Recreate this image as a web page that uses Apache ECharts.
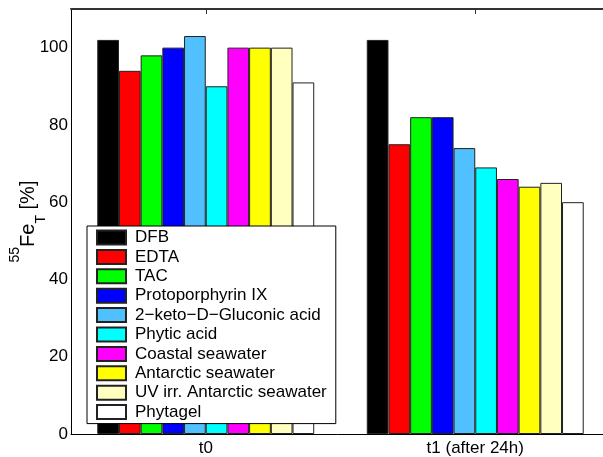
<!DOCTYPE html>
<html><head><meta charset="utf-8">
<script src="https://cdn.jsdelivr.net/npm/echarts@6/dist/echarts.min.js"></script>
<style>html,body{margin:0;padding:0;background:#fff}#c{width:603px;height:457px}</style>
</head><body><div id="c"></div>
<script>
const categories = ['t0', 't1 (after 24h)'];
const seriesNames = ['DFB', 'EDTA', 'TAC', 'Protoporphyrin IX', '2\u2212keto\u2212D\u2212Gluconic acid', 'Phytic acid', 'Coastal seawater', 'Antarctic seawater', 'UV irr. Antarctic seawater', 'Phytagel'];
const DFB = [102, 102];
const EDTA = [94, 75];
const TAC = [98, 82];
const Protoporphyrin = [100, 82];
const Gluconic = [103, 74];
const Phytic = [90, 69];
const Coastal = [100, 66];
const Antarctic = [100, 64];
const UVAntarctic = [100, 65];
const Phytagel = [91, 60];
const yTicks = [0, 20, 40, 60, 80, 100];

const values = [DFB, EDTA, TAC, Protoporphyrin, Gluconic, Phytic, Coastal, Antarctic, UVAntarctic, Phytagel];
const colors = ['#000000', '#ff0000', '#00ff00', '#0000ff', '#50c0ff', '#00ffff', '#ff00ff', '#ffff00', '#ffffc0', '#ffffff'];
const FONT = 'Liberation Sans, Arial, Helvetica, sans-serif';

const chart = echarts.init(document.getElementById('c'), null, {renderer: 'canvas'});
chart.setOption({
  animation: false,
  backgroundColor: '#ffffff',
  textStyle: {fontFamily: FONT},
  grid: {left: 71, right: -7, top: 9, bottom: 23, containLabel: false, outerBoundsMode: 'none'},
  legend: {
    orient: 'vertical', left: 87, top: 226,
    itemWidth: 29, itemHeight: 14, itemGap: 2.4,
    padding: [3, 9, 3, 9],
    backgroundColor: '#ffffff', borderColor: '#000000', borderWidth: 1, borderRadius: 0,
    icon: 'rect',
    textStyle: {fontFamily: FONT, fontSize: 17, color: '#000', lineHeight: 17, padding: [0, 0, 0, 4]},
    data: seriesNames
  },
  xAxis: [{
    type: 'category', data: categories, position: 'bottom',
    axisLine: {lineStyle: {color: '#000', width: 1}},
    axisTick: {show: false},
    axisLabel: {fontFamily: FONT, fontSize: 17, color: '#000', margin: 6}
  }, {
    type: 'category', data: categories, position: 'top',
    axisLine: {lineStyle: {color: '#333', width: 2}},
    axisTick: {show: true, inside: true, alignWithLabel: true, length: 5, lineStyle: {color: '#333'}},
    axisLabel: {show: false}
  }],
  yAxis: {
    type: 'value', min: 0, max: 110, interval: 20,
    axisLine: {show: true, lineStyle: {color: '#000', width: 1}},
    axisTick: {show: false},
    splitLine: {show: false},
    axisLabel: {fontFamily: FONT, fontSize: 17, color: '#000', margin: 3,
      formatter: v => yTicks.indexOf(v) >= 0 ? String(v) : ''},
    name: '{sup|55}{main|Fe}{sub|T}{main| [%]}',
    nameLocation: 'middle', nameRotate: 90, nameGap: 23, nameMoveOverlap: false,
    nameTextStyle: {
      rich: {
        main: {fontFamily: FONT, fontSize: 20, color: '#000', lineHeight: 40},
        sup: {fontFamily: FONT, fontSize: 14, color: '#000', lineHeight: 16, verticalAlign: 'top'},
        sub: {fontFamily: FONT, fontSize: 14, color: '#000', lineHeight: 16, verticalAlign: 'bottom'}
      }
    }
  },
  series: seriesNames.map((n, i) => ({
    name: n, type: 'bar', xAxisIndex: 0,
    data: values[i],
    barGap: '0%', barCategoryGap: '19.5%',
    itemStyle: {color: colors[i], borderColor: '#222', borderWidth: 1},
    emphasis: {disabled: true}
  }))
});
</script></body></html>
